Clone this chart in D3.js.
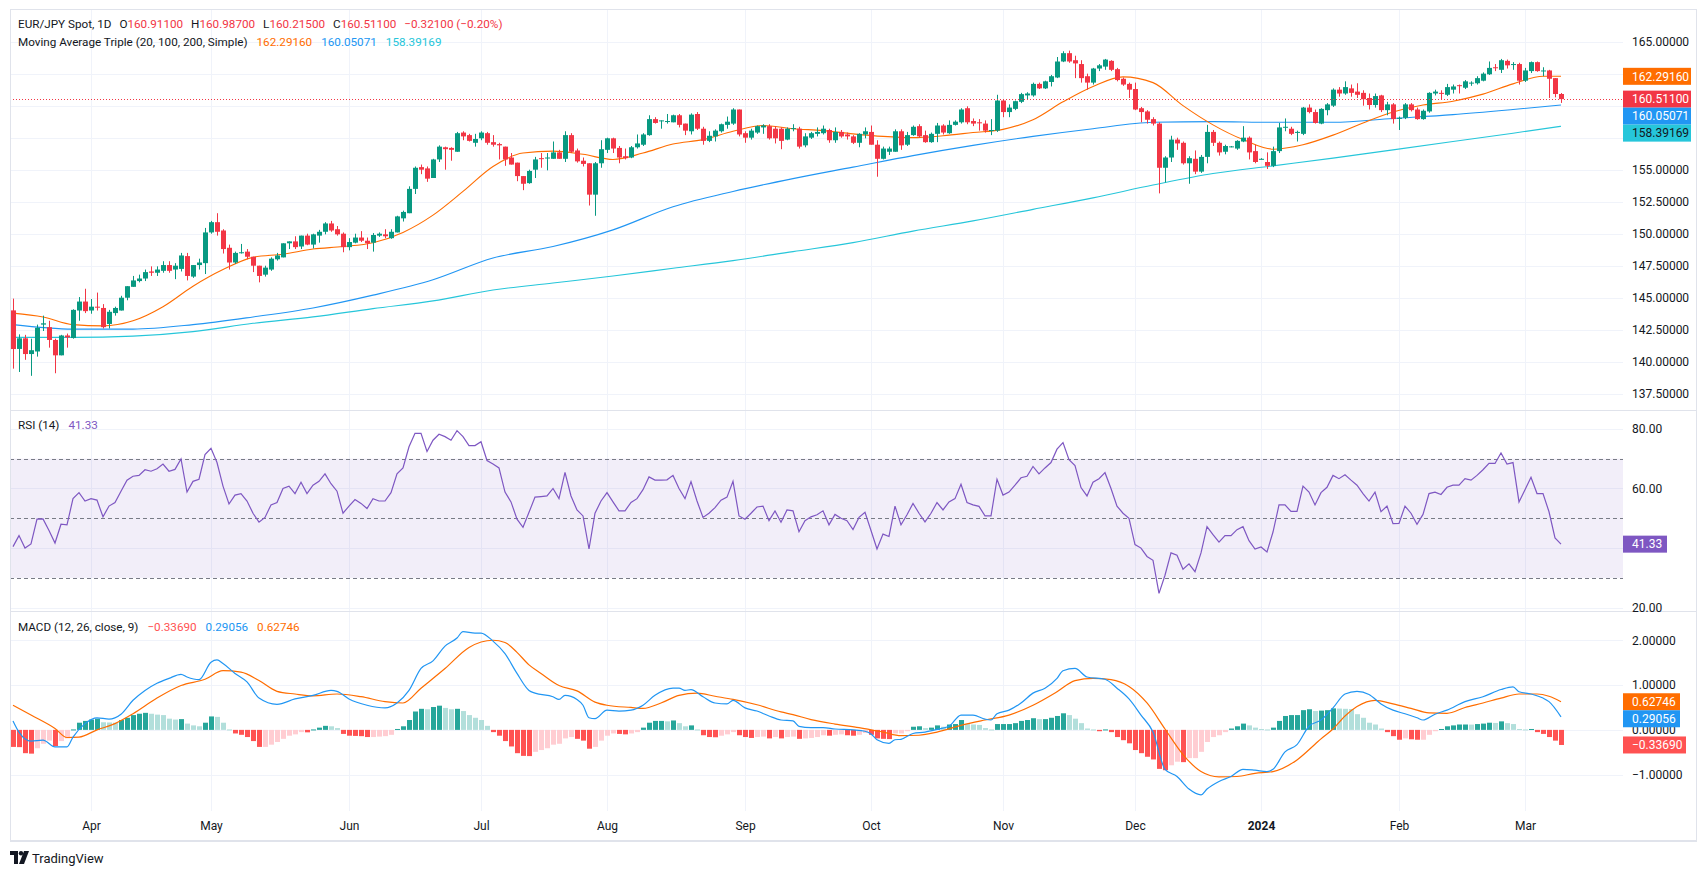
<!DOCTYPE html>
<html>
<head>
<meta charset="utf-8">
<script src="https://cdn.jsdelivr.net/npm/d3@7"></script>
<style>
  body { margin: 0; background: #fff; }
  svg { display: block; font-family: Roboto, "Noto Sans", sans-serif; }
</style>
</head>
<body>
<script>
// ---- data (daily bars, 15 Mar 2023 .. 11 Mar 2024) ----
const firstDay = new Date(2023, 2, 15);

const opens = [144.01,141.0,141.83,140.6,140.8,142.9,142.7,141.7,140.5,142.05,141.85,144.0,144.7,144.0,144.3,144.2,142.95,143.8,144.0,145.0,145.85,146.3,146.5,147.05,146.95,147.1,147.55,147.2,147.25,148.25,146.65,147.55,147.7,150.1,150.9,150.25,148.9,147.75,148.5,148.6,148.2,147.5,146.8,147.2,148.0,148.15,149.25,149.4,149.0,149.85,149.15,149.85,150.15,150.8,150.35,150.0,148.95,149.3,149.7,149.45,149.3,149.85,149.95,149.65,150.1,151.2,151.6,153.5,155.2,155.1,154.35,155.8,156.75,156.7,156.4,157.9,157.7,157.1,157.45,157.85,157.15,157.0,156.8,155.95,155.55,154.5,153.95,155.0,155.9,155.9,155.85,156.35,155.85,157.7,156.5,155.7,155.5,153.05,155.5,156.55,157.45,156.7,156.05,155.95,156.75,156.95,157.7,158.95,158.8,158.75,158.7,159.25,158.6,158.0,159.35,158.2,157.25,157.6,158.0,158.5,158.6,159.7,157.85,157.5,157.9,158.3,158.4,158.2,158.2,157.35,158.2,158.2,156.9,157.5,157.8,157.85,158.1,157.3,157.95,157.75,157.6,157.1,157.75,157.95,156.95,155.85,156.4,156.4,158.0,156.95,157.7,158.4,157.7,157.15,157.8,158.45,157.85,158.5,158.7,159.8,158.8,158.7,158.6,158.05,158.05,160.4,159.5,159.75,160.3,160.8,160.8,161.7,161.35,161.85,162.2,163.45,164.1,163.55,163.25,162.3,161.8,162.9,163.05,163.5,162.85,162.1,161.7,161.3,159.8,159.55,158.95,158.6,155.15,155.95,157.35,157.1,155.5,155.85,154.85,156.0,157.95,157.1,156.4,156.8,156.65,157.2,157.5,156.45,155.8,155.6,155.3,156.45,158.3,158.2,157.9,157.8,159.85,159.5,158.6,159.65,160.0,161.25,160.95,161.35,161.1,161.0,160.6,160.05,160.8,159.65,160.1,159.0,159.05,160.1,159.7,158.95,159.55,160.95,161.0,160.85,161.25,161.6,161.4,161.75,161.75,161.95,162.45,163.0,162.8,163.5,163.2,163.25,161.95,162.7,163.4,162.7,162.75,162.15,160.911];
const highs = [144.93,142.14,142.1,141.8,142.9,143.6,143.2,141.8,142.1,142.2,144.1,145.05,145.7,144.9,145.4,144.5,144.05,144.3,145.15,145.9,146.7,146.8,147.2,147.45,147.45,147.85,147.85,147.7,148.5,148.5,147.55,148.05,150.45,151.0,151.6,150.35,149.15,148.6,149.2,148.8,148.2,147.5,147.5,148.15,148.5,149.25,149.4,149.8,149.85,150.0,150.0,150.3,150.9,151.0,150.6,150.1,149.65,150.0,150.2,149.7,150.05,150.1,150.35,150.35,151.4,151.8,153.7,155.25,155.4,155.25,155.85,156.9,156.8,156.75,157.95,158.0,157.8,157.8,158.0,157.95,157.7,157.1,156.8,156.3,155.55,154.5,155.0,156.0,156.3,156.3,157.2,156.55,158.0,157.85,156.65,155.95,155.5,155.6,157.3,157.5,157.5,156.85,156.65,156.85,157.75,157.85,159.25,159.1,158.85,159.35,159.3,159.35,158.6,159.4,159.5,158.35,158.0,158.15,158.6,159.15,159.8,159.7,158.0,158.2,158.45,158.55,158.55,158.4,158.3,158.3,158.55,158.35,157.85,157.95,158.3,158.45,158.2,158.3,158.1,157.9,157.7,157.85,158.3,158.45,157.3,156.8,156.8,158.15,158.15,157.95,158.45,158.55,158.05,157.9,158.65,158.55,158.85,158.85,159.8,159.95,159.0,158.95,158.85,158.95,160.85,160.5,160.1,160.4,161.0,161.05,161.8,161.8,161.95,162.4,163.8,164.25,164.3,163.9,163.55,162.5,162.95,163.25,163.65,163.55,162.95,162.2,161.8,161.8,159.9,159.65,159.1,158.7,156.05,157.65,157.5,157.2,156.05,156.5,156.15,158.5,158.1,157.2,156.95,156.85,157.3,158.4,157.6,156.95,155.9,156.35,156.8,158.65,159.0,158.35,158.05,159.9,160.1,159.7,159.8,160.2,161.35,161.45,161.9,161.65,161.75,161.2,160.95,160.95,160.85,160.3,160.2,159.15,160.2,160.2,159.85,159.7,161.05,161.25,161.2,161.7,161.65,161.65,162.0,161.9,162.3,162.6,163.45,163.25,163.65,163.6,163.4,163.35,162.95,163.45,163.45,163.0,162.8,162.15,160.987];
const lows = [139.46,139.2,140.15,138.9,140.4,142.4,141.1,139.1,140.5,141.1,141.8,143.2,143.8,143.75,144.0,142.6,142.6,143.6,144.0,144.8,145.85,146.2,146.3,146.7,146.7,146.95,146.95,146.45,147.05,146.35,146.55,147.2,146.85,150.0,149.85,148.45,147.2,147.65,148.45,148.0,147.0,146.2,146.65,147.1,147.9,148.15,148.8,148.8,148.8,149.1,148.85,149.3,149.95,150.15,149.85,148.55,148.7,149.25,149.35,148.8,148.6,149.75,149.65,149.6,150.1,150.95,151.6,153.1,154.65,154.05,154.35,155.6,155.0,155.7,156.4,157.3,157.2,156.8,157.3,156.95,156.8,155.8,155.3,155.4,154.1,153.4,153.9,154.35,155.15,154.95,155.85,155.85,155.6,156.3,155.55,155.25,152.2,151.4,155.15,156.3,156.3,155.5,155.8,155.9,156.65,156.85,157.65,158.6,158.2,158.6,158.7,158.3,157.7,157.75,158.1,156.95,157.15,157.2,157.9,158.2,158.5,157.6,157.1,157.35,157.8,157.8,157.35,157.05,156.6,157.3,158.0,156.65,156.75,157.4,157.6,157.75,157.1,157.1,157.5,157.35,157.0,156.75,157.45,156.95,154.45,155.8,156.15,156.4,156.55,156.85,157.65,157.5,157.1,157.1,157.15,157.75,157.8,158.45,158.6,158.55,158.4,158.05,157.9,157.7,157.95,159.1,159.1,159.65,160.2,160.5,160.7,161.3,161.3,161.5,162.15,163.4,163.35,162.15,161.8,161.25,161.65,162.7,162.8,162.7,161.9,161.55,160.6,159.65,158.7,158.6,158.45,153.15,154.0,155.6,156.55,155.4,153.9,154.65,154.75,155.5,156.85,156.1,156.2,156.75,156.55,157.15,155.8,155.5,155.8,155.05,155.2,156.3,158.0,157.7,157.2,157.7,159.4,158.6,158.55,159.25,159.9,160.7,160.85,160.7,160.6,160.0,159.7,159.85,159.5,159.25,158.6,158.1,158.95,159.55,158.9,158.9,159.45,160.8,160.5,160.75,160.95,160.95,161.3,161.55,161.65,161.9,162.4,162.7,162.55,162.9,162.8,161.65,161.85,162.55,162.65,162.3,160.6,160.65,160.215];
const closes = [140.99,141.83,140.6,140.9,142.65,143.0,141.7,140.5,142.05,141.9,144.05,144.7,143.95,144.3,144.25,142.7,143.9,144.2,145.0,145.9,146.35,146.5,147.0,146.95,147.2,147.55,147.1,147.5,148.3,146.7,147.55,147.75,150.1,150.9,150.15,148.8,147.75,148.5,148.55,148.2,147.5,146.7,147.35,148.05,148.3,149.25,149.4,148.95,149.85,149.15,149.95,150.15,150.8,150.25,149.95,148.95,149.35,149.7,149.45,149.25,149.9,150.0,149.8,150.15,151.35,151.7,153.5,155.15,155.0,154.3,155.8,156.8,156.6,156.55,157.85,157.6,157.25,157.4,157.9,157.1,156.95,156.9,155.8,155.4,154.5,153.9,154.9,155.8,155.85,155.95,156.35,155.85,157.7,156.4,155.65,155.45,153.05,155.5,156.6,157.45,156.65,155.95,155.9,156.75,157.05,157.75,158.95,158.65,158.85,158.8,159.25,158.5,158.05,159.3,158.2,157.25,157.65,158.05,158.55,158.75,159.7,157.75,157.5,158.05,158.4,158.45,157.45,157.45,157.25,158.2,158.25,156.8,157.6,157.85,157.95,158.2,157.3,157.95,157.6,157.6,157.1,157.8,158.0,156.95,155.85,156.65,156.65,158.0,156.9,157.7,158.35,157.6,157.15,157.8,158.45,157.9,158.5,158.75,159.7,158.7,158.6,158.65,158.05,158.1,160.4,159.5,159.85,160.35,160.9,160.95,161.7,161.35,161.9,162.3,163.45,164.1,163.45,163.3,162.15,161.8,162.9,163.15,163.6,162.8,162.0,161.65,161.25,159.7,159.5,158.9,158.6,155.15,155.95,157.35,157.05,155.5,155.9,154.85,156.0,157.95,157.1,156.35,156.85,156.82,157.25,157.5,156.35,155.6,155.85,155.3,156.45,158.3,158.35,157.8,157.95,159.85,159.5,158.65,159.75,160.1,161.25,160.95,161.45,161.0,160.85,160.5,160.05,160.75,159.65,160.1,158.95,159.05,160.1,159.65,158.95,159.6,161.0,161.1,160.95,161.45,161.5,161.55,161.9,161.8,162.15,162.5,162.95,162.95,163.55,163.15,163.25,161.95,162.75,163.4,162.7,162.75,162.1,160.91,160.511];

// moving averages, read at every 5th / 10th bar
const ma20Idx = [0,5,10,15,20,25,30,35,40,45,50,55,60,65,70,75,80,85,90,95,100,105,110,115,120,125,130,135,140,145,150,155,160,165,170,175,180,185,190,195,200,205,210,215,220,225,230,235,240,245,250,255,258];
const ma20 = [143.8,143.5,142.9,142.8,143.2,144.3,145.9,147.2,148.15,148.4,148.8,149.0,149.3,150.1,151.45,153.3,155.25,156.3,156.45,156.2,155.8,156.3,157.0,157.35,158.0,158.45,158.2,158.05,157.8,157.6,157.5,157.65,157.9,158.15,158.9,160.3,161.5,162.25,161.8,160.0,158.5,157.35,156.6,156.95,157.7,158.65,159.5,160.05,160.35,160.9,161.7,162.3,162.2916];
const maLongIdx = [0,10,20,30,40,50,60,70,80,90,100,110,120,130,140,150,160,170,180,190,200,210,220,230,240,250,258];
const ma100 = [142.9,142.55,142.55,142.9,143.5,144.2,145.2,146.4,148.1,149.0,150.3,152.1,153.3,154.3,155.2,156.1,156.9,157.6,158.2,158.7,158.75,158.7,158.7,159.0,159.3,159.7,160.05071];
const ma200 = [141.9,141.9,142.0,142.35,143.0,143.5,144.15,144.75,145.6,146.15,146.7,147.3,147.9,148.6,149.3,150.2,151.0,151.9,152.8,153.8,154.7,155.3,155.9,156.55,157.2,157.85,158.39169];

// RSI(14), one value per bar
const rsi = [40.5,44.2,40.0,41.4,49.7,49.8,45.9,41.7,48.0,47.8,56.6,58.6,55.8,56.6,56.1,50.5,54.1,55.3,59.1,62.8,64.1,64.4,66.3,65.8,66.6,68.2,65.8,66.4,69.9,58.8,62.4,63.1,71.4,73.5,68.7,60.8,54.8,57.8,58.3,55.8,51.7,48.7,50.3,54.5,55.3,60.0,60.8,58.3,62.1,58.3,61.1,62.4,64.9,61.6,59.1,51.7,54.1,56.3,55.0,53.3,56.6,55.8,55.8,58.6,64.9,66.9,74.0,78.5,78.5,72.4,76.2,78.2,77.4,76.2,79.4,77.4,74.4,74.4,75.7,69.4,68.2,66.9,58.8,55.5,49.7,47.0,52.0,57.1,57.3,57.5,60.0,56.6,65.4,57.5,52.8,50.8,39.7,51.7,55.8,58.6,55.5,52.5,52.5,55.3,56.6,59.6,63.9,62.8,62.8,62.9,64.4,60.0,56.6,62.3,55.8,50.3,51.7,53.6,56.1,57.1,62.4,50.8,49.7,51.7,53.8,54.1,49.2,52.5,48.7,52.8,52.5,45.5,49.2,50.5,51.2,52.5,47.8,51.3,50.0,49.2,46.2,50.3,52.0,45.9,39.7,44.7,43.9,54.1,47.8,51.2,55.0,51.7,48.8,51.7,55.3,52.8,55.5,56.6,61.4,55.3,54.5,54.0,50.8,50.8,63.1,57.8,58.8,61.1,63.6,64.1,67.4,64.9,66.9,68.7,73.2,75.4,69.7,67.7,60.3,57.5,62.1,63.3,65.3,60.0,54.1,51.7,50.0,41.2,40.0,37.2,35.9,24.8,30.9,38.4,37.6,32.9,34.7,32.1,38.4,47.2,44.5,42.0,44.2,44.2,46.2,47.2,42.5,39.7,40.4,38.7,45.4,54.5,54.5,52.3,52.3,60.8,58.8,54.5,58.6,60.4,64.4,63.3,64.6,62.8,61.1,58.3,55.8,58.8,52.2,54.1,48.2,48.3,54.1,51.7,48.0,51.3,58.3,58.8,58.0,60.4,61.1,61.1,63.3,62.8,64.4,66.3,68.4,68.4,71.9,68.2,68.7,55.5,59.6,63.8,58.3,58.3,52.2,43.4,41.33];

// MACD(12, 26, close, 9): line and signal read at their turning points, histogram per bar
const macdIdx = [0,1,3,5,7,9,10,12,14,16,18,20,22,24,26,28,29,31,33,34,35,37,39,41,44,47,50,53,54,56,59,62,64,66,68,70,72,74,75,77,78,80,82,84,86,87,90,91,92,94,95,96,97,99,101,103,105,107,110,111,112,113,115,117,119,120,122,124,126,128,130,131,133,135,137,140,142,143,144,146,147,148,150,152,154,156,158,160,162,163,164,166,168,170,172,174,175,177,179,182,184,186,188,190,192,194,196,198,199,201,203,205,207,209,210,212,214,216,218,220,222,224,226,228,230,232,234,235,237,239,242,245,248,250,251,253,255,256,258];
const macdLine = [0.2,-0.05,-0.25,-0.23,-0.38,-0.38,-0.16,0.14,0.27,0.24,0.35,0.66,0.88,1.04,1.15,1.24,1.18,1.12,1.51,1.56,1.48,1.26,1.07,0.71,0.57,0.69,0.77,0.88,0.86,0.69,0.55,0.49,0.6,0.88,1.37,1.54,1.87,2.05,2.19,2.16,2.16,1.98,1.7,1.26,0.88,0.82,0.74,0.68,0.77,0.68,0.55,0.27,0.25,0.44,0.42,0.44,0.55,0.77,0.93,0.93,0.88,0.9,0.74,0.6,0.58,0.66,0.49,0.42,0.31,0.22,0.2,0.08,0.05,0.05,0.02,0.0,-0.03,-0.09,-0.22,-0.3,-0.22,-0.21,-0.08,-0.05,0.01,0.08,0.33,0.33,0.24,0.22,0.36,0.44,0.6,0.82,0.93,1.15,1.32,1.37,1.18,1.13,0.93,0.69,0.33,-0.05,-0.88,-1.04,-1.32,-1.45,-1.32,-1.15,-1.04,-0.88,-0.9,-0.93,-0.88,-0.49,-0.33,0.08,0.22,0.49,0.8,0.86,0.79,0.58,0.44,0.36,0.27,0.22,0.35,0.44,0.63,0.74,0.9,0.96,0.85,0.8,0.71,0.63,0.29056];
const signalIdx = [0,3,7,9,11,14,17,20,24,28,32,35,38,41,44,47,50,54,58,62,65,68,72,76,80,82,84,86,88,91,94,97,99,103,105,108,111,114,117,120,124,128,130,133,137,141,145,148,151,154,158,162,166,170,174,177,180,183,186,189,192,195,198,201,204,207,210,214,217,218,220,222,224,227,230,233,236,239,242,245,248,251,254,256,258];
const signalLine = [0.55,0.33,0.03,-0.17,-0.16,0.0,0.14,0.36,0.71,0.99,1.13,1.32,1.29,1.1,0.86,0.8,0.76,0.8,0.74,0.63,0.6,0.93,1.37,1.84,2.0,1.95,1.73,1.45,1.26,0.99,0.87,0.62,0.55,0.5,0.48,0.6,0.77,0.82,0.75,0.68,0.56,0.4,0.34,0.23,0.13,0.05,-0.05,-0.13,-0.12,-0.05,0.1,0.22,0.33,0.55,0.85,1.1,1.15,1.12,0.97,0.6,0.02,-0.55,-0.93,-1.05,-1.04,-0.97,-0.93,-0.67,-0.32,-0.2,0.02,0.31,0.52,0.66,0.58,0.48,0.38,0.37,0.5,0.6,0.71,0.8,0.8,0.75,0.62746];
const macdHist = [-0.38,-0.385,-0.52,-0.53,-0.41,-0.31,-0.24,-0.36,-0.25,-0.19,0.01,0.16,0.2,0.23,0.25,0.17,0.165,0.16,0.22,0.27,0.33,0.36,0.38,0.36,0.34,0.33,0.25,0.23,0.24,0.14,0.1,0.08,0.16,0.3,0.29,0.16,0.01,-0.08,-0.11,-0.16,-0.25,-0.38,-0.38,-0.33,-0.27,-0.2,-0.13,-0.1,-0.05,-0.055,0.01,0.05,0.09,0.08,0.04,-0.09,-0.13,-0.135,-0.14,-0.16,-0.16,-0.15,-0.14,-0.11,0.02,0.08,0.22,0.41,0.47,0.46,0.51,0.54,0.49,0.46,0.47,0.42,0.33,0.27,0.22,0.09,-0.05,-0.13,-0.25,-0.37,-0.52,-0.58,-0.585,-0.49,-0.45,-0.41,-0.33,-0.31,-0.19,-0.16,-0.2,-0.24,-0.42,-0.38,-0.24,-0.13,-0.08,-0.09,-0.1,-0.08,-0.05,0.05,0.16,0.2,0.2,0.19,0.21,0.15,0.08,0.1,0.01,-0.12,-0.16,-0.165,-0.13,-0.1,-0.05,-0.12,-0.16,-0.18,-0.16,-0.15,-0.19,-0.16,-0.19,-0.16,-0.15,-0.2,-0.19,-0.18,-0.16,-0.12,-0.13,-0.11,-0.1,-0.12,-0.13,-0.11,-0.07,-0.11,-0.19,-0.2,-0.205,-0.08,-0.08,-0.03,0.07,0.08,0.04,0.05,0.1,0.07,0.12,0.13,0.22,0.13,0.12,0.11,0.04,0.01,0.13,0.13,0.13,0.15,0.2,0.22,0.26,0.24,0.24,0.27,0.31,0.37,0.33,0.25,0.15,0.03,0.01,-0.03,0.01,-0.05,-0.16,-0.23,-0.3,-0.45,-0.52,-0.6,-0.66,-0.87,-0.9,-0.79,-0.71,-0.72,-0.63,-0.63,-0.49,-0.27,-0.16,-0.12,-0.05,0.03,0.08,0.14,0.1,0.05,0.02,0.01,0.05,0.2,0.31,0.33,0.33,0.44,0.46,0.42,0.43,0.44,0.48,0.475,0.47,0.465,0.35,0.27,0.16,0.12,0.03,-0.05,-0.14,-0.22,-0.19,-0.21,-0.22,-0.22,-0.11,-0.03,0.02,0.08,0.1,0.12,0.12,0.118,0.13,0.14,0.16,0.155,0.19,0.15,0.13,0.02,0.01,0.02,-0.05,-0.09,-0.16,-0.24,-0.3369];

const priceTicks = [137.5,140,142.5,145,147.5,150,152.5,155,157.5,160,162.5,165];
const rsiTicks = [20,40,60,80];
const macdTicks = [-1,0,1,2];

// ---- layout ----
const width = 1706, height = 875;
const left = 10, plotRight = 1623, axisRight = 1696;
const pricePane = {top: 9, bottom: 410};
const rsiPane = {top: 411, bottom: 611};
const macdPane = {top: 612, bottom: 811};
const frameBottom = 840;

const upColor = "#089981", downColor = "#F23645";
const gridColor = "#F0F3FA", textColor = "#131722", lineGray = "#E0E3EB";

// trading days (weekdays only)
const dates = [];
for (let d = new Date(firstDay); dates.length < closes.length; d.setDate(d.getDate() + 1)) {
  if (d.getDay() !== 0 && d.getDay() !== 6) dates.push(new Date(d));
}
const monthTicks = d3.range(1, dates.length).filter(i => dates[i].getMonth() !== dates[i - 1].getMonth());

const x = d3.scaleLinear().domain([0, closes.length - 1]).range([13, 1561]);
const yP = d3.scaleLinear().domain([136.23, 167.55]).range([pricePane.bottom, pricePane.top]);
const yR = d3.scaleLinear().domain([18.9, 86.0]).range([rsiPane.bottom, rsiPane.top]);
const yM = d3.scaleLinear().domain([-1.81, 2.63]).range([macdPane.bottom, macdPane.top]);

const svg = d3.select("body").append("svg")
    .attr("width", width)
    .attr("height", height);

const defs = svg.append("defs");
[["clipPrice", pricePane], ["clipRsi", rsiPane], ["clipMacd", macdPane]].forEach(([id, p]) => {
  defs.append("clipPath").attr("id", id)
    .append("rect").attr("x", left + 1).attr("y", p.top).attr("width", plotRight - left - 1).attr("height", p.bottom - p.top);
});

// grids
function hGrid(ticks, scale) {
  svg.append("g").selectAll("line").data(ticks).join("line")
      .attr("x1", left).attr("x2", plotRight)
      .attr("y1", d => Math.round(scale(d)) + 0.5).attr("y2", d => Math.round(scale(d)) + 0.5)
      .attr("stroke", gridColor);
}
hGrid(priceTicks, yP);
hGrid(rsiTicks, yR);
hGrid(macdTicks, yM);

svg.append("g").selectAll("line").data(monthTicks).join("line")
    .attr("x1", i => x(i) + 0.5).attr("x2", i => x(i) + 0.5)
    .attr("y1", pricePane.top).attr("y2", macdPane.bottom)
    .attr("stroke", gridColor);

// ---- price pane ----
const gPrice = svg.append("g").attr("clip-path", "url(#clipPrice)");

const line = (idx, vals, scale) => d3.line()
    .x((d, k) => x(idx[k]))
    .y(d => scale(d))
    .curve(d3.curveMonotoneX)(vals);

gPrice.append("path").attr("d", line(maLongIdx, ma200, yP))
    .attr("fill", "none").attr("stroke", "#26C6DA").attr("stroke-width", 1.1);
gPrice.append("path").attr("d", line(maLongIdx, ma100, yP))
    .attr("fill", "none").attr("stroke", "#2196F3").attr("stroke-width", 1.1);
gPrice.append("path").attr("d", line(ma20Idx, ma20, yP))
    .attr("fill", "none").attr("stroke", "#FF6D00").attr("stroke-width", 1.1);

const candleColor = i => closes[i] >= opens[i] ? upColor : downColor;
const bars = gPrice.selectAll("g.candle").data(d3.range(closes.length)).join("g");
bars.append("line")
    .attr("x1", i => x(i) + 0.5).attr("x2", i => x(i) + 0.5)
    .attr("y1", i => yP(highs[i])).attr("y2", i => yP(lows[i]))
    .attr("stroke", candleColor);
bars.append("rect")
    .attr("x", i => x(i) - 2)
    .attr("width", 5)
    .attr("y", i => yP(Math.max(opens[i], closes[i])))
    .attr("height", i => Math.max(1, Math.abs(yP(opens[i]) - yP(closes[i]))))
    .attr("fill", candleColor);

// last price dotted line
const lastClose = closes[closes.length - 1];
svg.append("line")
    .attr("x1", left).attr("x2", plotRight)
    .attr("y1", Math.round(yP(lastClose)) + 0.5).attr("y2", Math.round(yP(lastClose)) + 0.5)
    .attr("stroke", downColor).attr("stroke-dasharray", "1,2");

// ---- RSI pane ----
const gRsi = svg.append("g").attr("clip-path", "url(#clipRsi)");
gRsi.append("rect")
    .attr("x", left).attr("width", plotRight - left)
    .attr("y", yR(70)).attr("height", yR(30) - yR(70))
    .attr("fill", "rgba(126,87,194,0.1)");
gRsi.selectAll("line.band").data([70, 50, 30]).join("line")
    .attr("x1", left).attr("x2", plotRight)
    .attr("y1", d => Math.round(yR(d)) + 0.5).attr("y2", d => Math.round(yR(d)) + 0.5)
    .attr("stroke", "#787B86").attr("stroke-dasharray", "4,3");
gRsi.append("path")
    .attr("d", d3.line().x((d, i) => x(i)).y(d => yR(d))(rsi))
    .attr("fill", "none").attr("stroke", "#7E57C2").attr("stroke-width", 1.2);

// ---- MACD pane ----
const gMacd = svg.append("g").attr("clip-path", "url(#clipMacd)");
gMacd.selectAll("rect").data(d3.range(macdHist.length)).join("rect")
    .attr("x", i => x(i) - 2)
    .attr("width", 5)
    .attr("y", i => Math.min(yM(0), yM(macdHist[i])))
    .attr("height", i => Math.max(1, Math.abs(yM(macdHist[i]) - yM(0))))
    .attr("fill", i => {
      const h = macdHist[i], prev = i > 0 ? macdHist[i - 1] : 0;
      if (h >= 0) return h >= prev ? "#26A69A" : "#B2DFDB";
      return h < prev ? "#FF5252" : "#FFCDD2";
    });
gMacd.append("path").attr("d", line(signalIdx, signalLine, yM))
    .attr("fill", "none").attr("stroke", "#FF6D00").attr("stroke-width", 1.2);
gMacd.append("path").attr("d", line(macdIdx, macdLine, yM))
    .attr("fill", "none").attr("stroke", "#2196F3").attr("stroke-width", 1.2);

// ---- frame & separators ----
svg.append("g").selectAll("line").data([pricePane.bottom, rsiPane.bottom]).join("line")
    .attr("x1", left).attr("x2", axisRight)
    .attr("y1", d => d + 0.5).attr("y2", d => d + 0.5)
    .attr("stroke", lineGray);
svg.append("rect")
    .attr("x", left + 0.5).attr("y", pricePane.top + 0.5)
    .attr("width", axisRight - left).attr("height", frameBottom - pricePane.top)
    .attr("fill", "none").attr("stroke", lineGray);
svg.append("line")
    .attr("x1", left).attr("x2", axisRight + 1)
    .attr("y1", frameBottom + 1).attr("y2", frameBottom + 1)
    .attr("stroke", lineGray).attr("stroke-width", 2);

// ---- value labels on the price scales (placed first, so covered ticks can be dropped) ----
function placeLabels(items, scale) {
  items.forEach(d => { d.y = scale(d.v); });
  items.sort((a, b) => a.y - b.y);
  for (let k = 1; k < items.length; k++) {
    if (items[k].y < items[k - 1].y + 17) items[k].y = items[k - 1].y + 17;
  }
  return items;
}
const priceLabels = placeLabels([
  {v: 162.2916, bg: "#FF6D00", t: "162.29160"},
  {v: lastClose, bg: downColor, t: "160.51100"},
  {v: 160.05071, bg: "#2196F3", t: "160.05071"},
  {v: 158.39169, bg: "#26C6DA", fg: textColor, t: "158.39169"}
], yP);
const rsiLabels = placeLabels([{v: 41.33, bg: "#7E57C2", t: "41.33", w: 44}], yR);
const macdLabels = placeLabels([
  {v: 0.62746, bg: "#FF6D00", t: "0.62746", w: 57},
  {v: 0.29056, bg: "#2196F3", t: "0.29056", w: 57},
  {v: -0.3369, bg: "#FF5252", t: "\u22120.33690", w: 63}
], yM);

// ---- axes ----
function rightAxis(scale, ticks, fmt, labels) {
  const free = ticks.filter(t => labels.every(l => Math.abs(scale(t) - l.y) >= 10));
  const g = svg.append("g")
      .attr("transform", "translate(" + plotRight + ",0)")
      .call(d3.axisRight(scale).tickValues(free).tickFormat(fmt).tickSize(0).tickPadding(9));
  g.select(".domain").remove();
  g.selectAll("text").attr("fill", textColor).attr("font-size", 12).attr("font-family", "Roboto, sans-serif");
}
rightAxis(yP, priceTicks, d3.format(".5f"), priceLabels);
rightAxis(yR, rsiTicks, d3.format(".2f"), rsiLabels);
rightAxis(yM, macdTicks, d3.format(".5f"), macdLabels);

const monthFmt = d3.timeFormat("%b");
const gx = svg.append("g")
    .attr("transform", "translate(0," + macdPane.bottom + ")")
    .call(d3.axisBottom(x).tickValues(monthTicks)
      .tickFormat(i => dates[i].getMonth() === 0 ? String(dates[i].getFullYear()) : monthFmt(dates[i]))
      .tickSize(0).tickPadding(10));
gx.select(".domain").remove();
gx.selectAll("text")
    .attr("fill", textColor).attr("font-size", 12).attr("font-family", "Roboto, sans-serif")
    .attr("font-weight", i => dates[i].getMonth() === 0 ? "bold" : null);

function drawLabels(items) {
  const g = svg.append("g").selectAll("g").data(items).join("g")
      .attr("transform", d => "translate(" + plotRight + "," + d.y + ")");
  g.append("rect")
      .attr("x", 0).attr("y", -8.5).attr("width", d => d.w || 68).attr("height", 17)
      .attr("fill", d => d.bg);
  g.append("text")
      .attr("x", 9).attr("dy", "0.35em")
      .attr("font-size", 12).attr("fill", d => d.fg || "#fff")
      .text(d => d.t);
}
drawLabels(priceLabels);
drawLabels(rsiLabels);
drawLabels(macdLabels);

// ---- legends ----
function legend(y, parts) {
  const t = svg.append("text").attr("x", 18).attr("y", y).attr("font-size", 11.7).attr("dy", "0.35em");
  parts.forEach(p => t.append("tspan").attr("dx", p.dx || 0).attr("fill", p.c || textColor).text(p.t));
}
legend(24, [
  {t: "EUR/JPY Spot, 1D"},
  {t: "O", dx: 8}, {t: "160.91100", c: downColor},
  {t: "H", dx: 8}, {t: "160.98700", c: downColor},
  {t: "L", dx: 8}, {t: "160.21500", c: downColor},
  {t: "C", dx: 8}, {t: "160.51100", c: downColor},
  {t: "\u22120.32100 (\u22120.20%)", dx: 8, c: downColor}
]);
legend(42, [
  {t: "Moving Average Triple (20, 100, 200, Simple)"},
  {t: "162.29160", dx: 9, c: "#FF6D00"},
  {t: "160.05071", dx: 9, c: "#2196F3"},
  {t: "158.39169", dx: 9, c: "#26C6DA"}
]);
legend(425, [{t: "RSI (14)"}, {t: "41.33", dx: 9, c: "#7E57C2"}]);
legend(627, [
  {t: "MACD (12, 26, close, 9)"},
  {t: "\u22120.33690", dx: 9, c: "#FF5252"},
  {t: "0.29056", dx: 9, c: "#2196F3"},
  {t: "0.62746", dx: 9, c: "#FF6D00"}
]);

// ---- TradingView mark ----
const logo = svg.append("g").attr("transform", "translate(10,851)").attr("fill", textColor);
logo.append("path").attr("d", "M0,0 H8 V13 H4 V4 H0 Z");
logo.append("circle").attr("cx", 11).attr("cy", 2.2).attr("r", 2.2);
logo.append("path").attr("d", "M14,0 H19 L14,13 H9 Z");
svg.append("text")
    .attr("x", 32).attr("y", 858).attr("dy", "0.35em")
    .attr("font-size", 13).attr("fill", textColor)
    .text("TradingView");
</script>
</body>
</html>
